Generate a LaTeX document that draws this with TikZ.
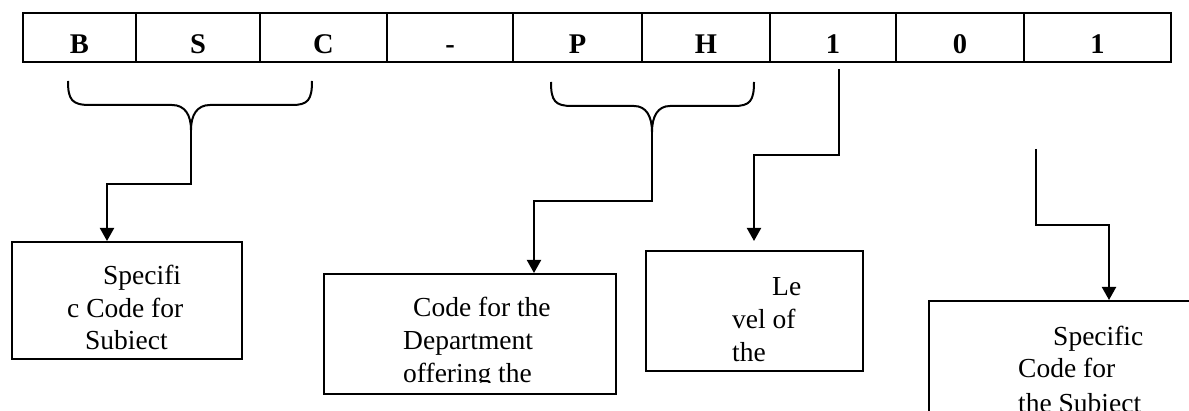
\documentclass[tikz,border=0pt]{standalone}
\usepackage{fontspec}
\setmainfont{Liberation Serif}
\usetikzlibrary{arrows.meta}
\begin{document}
\begin{tikzpicture}[x=1pt,y=-1pt,
  cell/.style={draw, line width=2pt, minimum height=49pt, inner sep=0pt,
    text height=33pt, text depth=0pt, font=\fontsize{28.5}{30}\selectfont\bfseries},
  box/.style={draw, line width=2pt, inner sep=0pt, anchor=north west},
  txt/.style={anchor=base west, inner sep=0pt, font=\fontsize{27.5}{33}\selectfont},
  brace/.style={draw, line width=2pt},
  arr/.style={draw, line width=2pt, -{Triangle[length=13pt,width=14pt]}},
]
\clip (0,0) rectangle (1189,411);
\fill[white] (0,0) rectangle (1189,411);
% table cells
\node[cell, minimum width=113pt] (c1) at (79.5,37.5) {B};
\node[cell, minimum width=124pt] (c2) at (198,37.5) {S};
\node[cell, minimum width=127pt] (c3) at (323.5,37.5) {C};
\node[cell, minimum width=126pt] (c4) at (450,37.5) {-};
\node[cell, minimum width=129pt] (c5) at (577.5,37.5) {P};
\node[cell, minimum width=128pt] (c6) at (706,37.5) {H};
\node[cell, minimum width=126pt] (c7) at (833,37.5) {1};
\node[cell, minimum width=128pt] (c8) at (960,37.5) {0};
\node[cell, minimum width=147pt] (c9) at (1097.5,37.5) {1};
% braces
\coordinate (t1) at (191,130);
\coordinate (t2) at (652,132);
\draw[brace] (68,81) .. controls (68,100) and (72,105) .. (90,105) -- (172,105)
  .. controls (185,105) and (191,115) .. (t1)
  .. controls (191,115) and (197,105) .. (210,105) -- (292,105)
  .. controls (308,105) and (312,100) .. (312,81);
\draw[brace] (551,82) .. controls (551,101) and (555,106) .. (572,106) -- (634,106)
  .. controls (646,106) and (652,116) .. (t2)
  .. controls (652,116) and (658,106) .. (670,106) -- (734,106)
  .. controls (750,106) and (754,101) .. (754,82);
% boxes
\node[box, minimum width=230pt, minimum height=117pt] (box1) at (11,241) {};
\node[box, minimum width=292pt, minimum height=120pt] (box2) at (323,273) {};
\node[box, minimum width=217pt, minimum height=120pt] (box3) at (645,250) {};
\node[box, minimum width=300pt, minimum height=150pt] (box4) at (928,300) {};
% box texts
\node[txt] (l1a) at (103,285) {Specifi};
\node[txt] (l1b) at (67,318) {c Code for};
\node[txt] (l1c) at (85,350) {Subiect};
\begin{scope}
\clip (323,273) rectangle (615,383);
\node[txt] (l2a) at (413,317) {Code for the};
\node[txt] (l2b) at (403,350) {Department};
\node[txt] (l2c) at (403,383) {offering the};
\end{scope}
\node[txt] (l3a) at (772,296) {Le};
\node[txt] (l3b) at (732,329) {vel of};
\node[txt] (l3c) at (732,362) {the};
\node[txt] (l4a) at (1053,346) {Specific};
\node[txt] (l4b) at (1018,378) {Code for};
\node[txt] (l4c) at (1018,413) {the Subiect};
% connectors
\coordinate (a1) at ([xshift=96pt]box1.north west);
\coordinate (a2) at ([xshift=211pt]box2.north west);
\coordinate (a3) at (754,241);
\coordinate (a4) at ([xshift=181pt]box4.north west);
\coordinate (s3) at (839,69);
\coordinate (s4) at (1036,149);
\draw[arr] (t1) -- ++(0,54) -| (a1);
\draw[arr] (t2) -- ++(0,69) -| (a2);
\draw[arr] (s3) -- ++(0,86) -| (a3);
\draw[arr] (s4) -- ++(0,76) -| (a4);
\end{tikzpicture}
\end{document}
